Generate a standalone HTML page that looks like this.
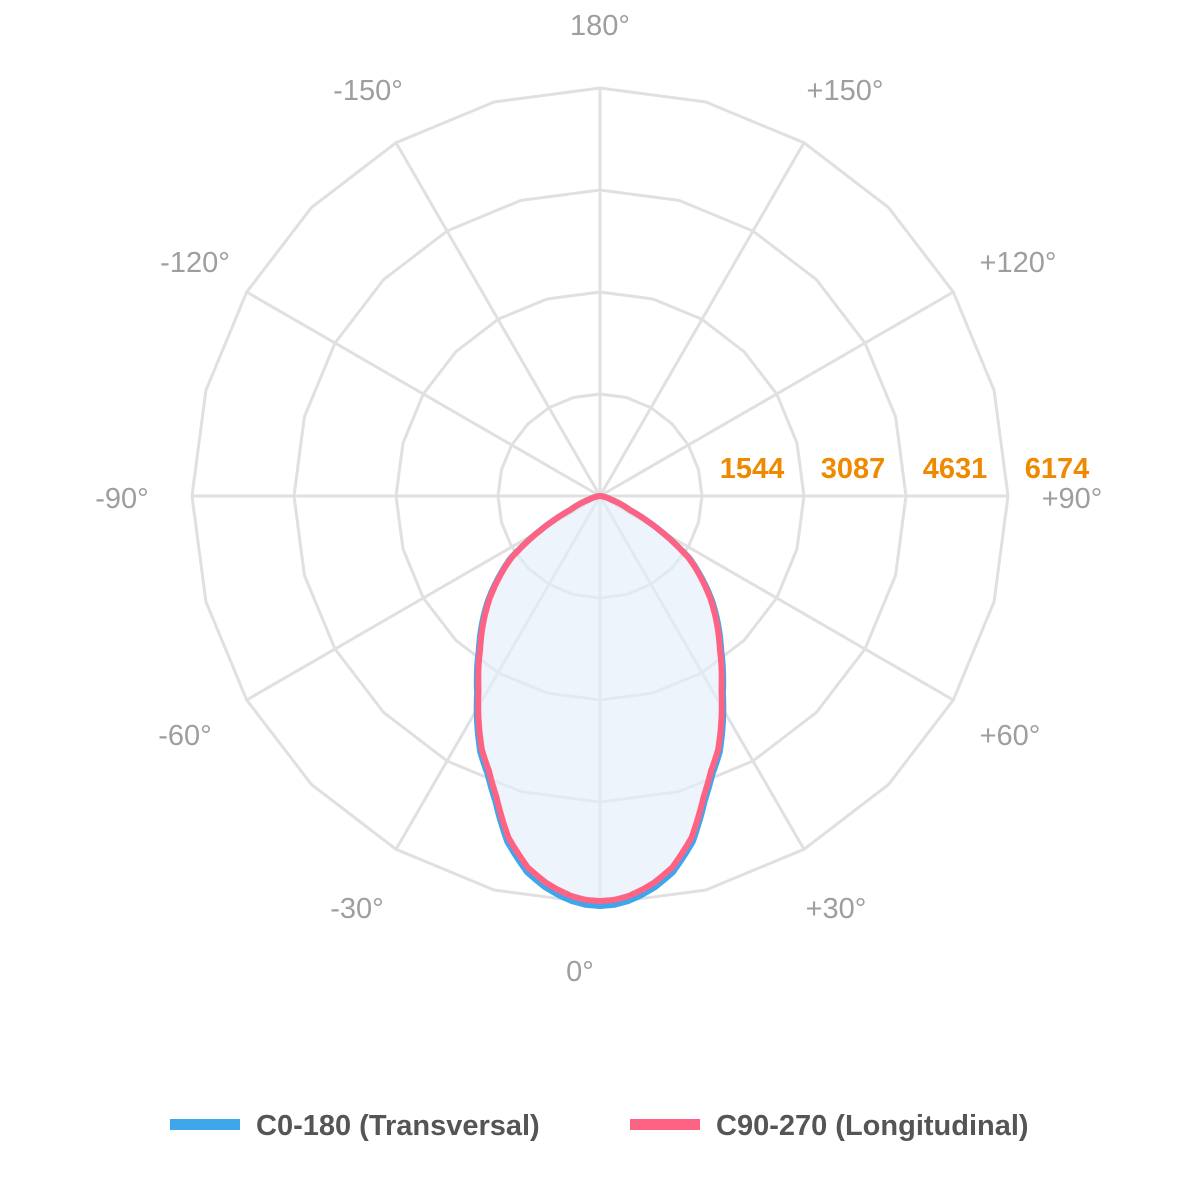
<!DOCTYPE html>
<html><head><meta charset="utf-8"><style>
html,body{margin:0;padding:0;background:#fff;width:1200px;height:1200px;overflow:hidden}
text{font-family:"Liberation Sans",sans-serif}
</style></head><body>
<svg id="s" width="1200" height="1200" viewBox="0 0 1200 1200" xmlns="http://www.w3.org/2000/svg">
<g id="grid" stroke="#e0e0e0" stroke-width="3" fill="none"></g>
<path id="fill" fill="#e3eef9" fill-opacity="0.65" stroke="none"/>
<path id="blue" fill="none" stroke="#3ea6ea" stroke-width="6" stroke-linejoin="round"/>
<path id="pink" fill="none" stroke="#ff6384" stroke-width="6" stroke-linejoin="round"/>
<g fill="#9e9e9e" font-size="29" text-anchor="middle">
<text x="600" y="35">180°</text>
<text x="845" y="100">+150°</text>
<text x="1018" y="272">+120°</text>
<text x="1072" y="508">+90°</text>
<text x="1010" y="745">+60°</text>
<text x="836" y="918">+30°</text>
<text x="580" y="981">0°</text>
<text x="357" y="918">-30°</text>
<text x="185" y="745">-60°</text>
<text x="122" y="508">-90°</text>
<text x="195" y="272">-120°</text>
<text x="368" y="100">-150°</text>
</g>
<g fill="#ef8a00" font-size="29" font-weight="bold" text-anchor="middle">
<text x="752" y="478">1544</text>
<text x="853" y="478">3087</text>
<text x="955" y="478">4631</text>
<text x="1057" y="478">6174</text>
</g>
<rect x="170" y="1119" width="70" height="11" fill="#3ea6ea"/>
<text x="256" y="1135" font-size="29" font-weight="bold" fill="#555">C0-180 (Transversal)</text>
<rect x="630" y="1119" width="70" height="11" fill="#ff6384"/>
<text x="716" y="1135" font-size="29" font-weight="bold" fill="#555">C90-270 (Longitudinal)</text>
</svg>
<script>
var cx=600,cy=496,R=408,g=document.getElementById('grid'),ns='http://www.w3.org/2000/svg';
function P(a,r){var t=a*Math.PI/180;return [cx+r*Math.sin(t),cy+r*Math.cos(t)];}
for(var k=1;k<=4;k++){var r=R*k/4,d='';for(var a=0;a<360;a+=15){var p=P(a,r);d+=(a?'L':'M')+p[0].toFixed(1)+' '+p[1].toFixed(1);}
var e=document.createElementNS(ns,'path');e.setAttribute('d',d+'Z');g.appendChild(e);}
for(var a=0;a<360;a+=30){var p=P(a,R),e=document.createElementNS(ns,'line');e.setAttribute('x1',cx);e.setAttribute('y1',cy);e.setAttribute('x2',p[0]);e.setAttribute('y2',p[1]);g.appendChild(e);}
var T=[[0,410],[2,409],[4,406],[6,401],[8,395],[11,383],[15,358],[19,322],[22,300],[25,283],[32,232],[38,197],[47,153],[55,110],[60,70],[65,33],[72,12],[80,3],[90,0]];
function rv(a){a=Math.abs(a);if(a>90)return 0;for(var i=0;i<T.length-1;i++){if(a>=T[i][0]&&a<=T[i+1][0]){var f=(a-T[i][0])/(T[i+1][0]-T[i][0]);return T[i][1]+f*(T[i+1][1]-T[i][1]);}}return 0;}
function path(s){var d='';for(var a=-90;a<=90;a+=0.5){var p=P(a,rv(a)*s);d+=(a>-90?'L':'M')+p[0].toFixed(1)+' '+p[1].toFixed(1);}return d+'Z';}
document.getElementById('fill').setAttribute('d',path(1));
document.getElementById('blue').setAttribute('d',path(1));
document.getElementById('pink').setAttribute('d',path(0.988));
</script>
</body></html>
